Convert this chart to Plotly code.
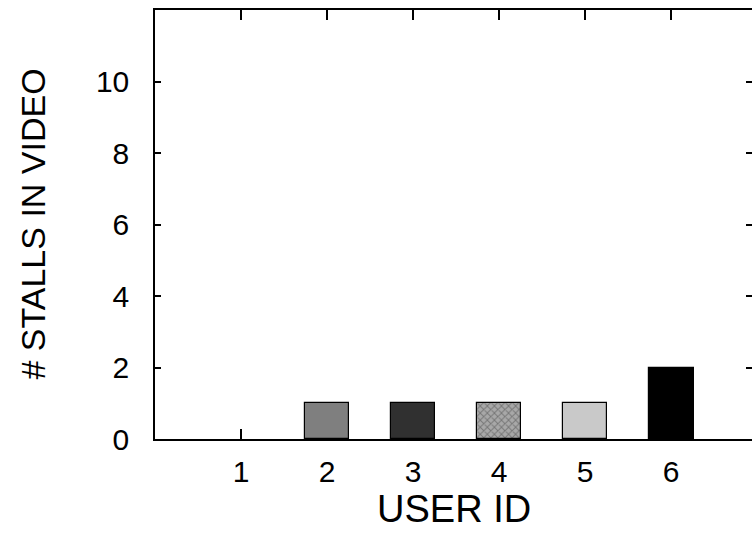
import plotly.graph_objects as go

user_ids = [1, 2, 3, 4, 5, 6]
stalls = [0, 1, 1, 1, 1, 2]
bar_colors = ["#ffffff", "#7f7f7f", "#303030", "#a8a8a8", "#c9c9c9", "#000000"]
y_ticks = [0, 2, 4, 6, 8, 10]

patterns = ["", "", "", "x", "", ""]
outline_widths = [0 if v == 0 else 1.2 for v in stalls]

fig = go.Figure()
fig.add_trace(go.Bar(
    x=user_ids, y=stalls, width=0.52,
    marker=dict(
        color=bar_colors,
        line=dict(color="#000000", width=outline_widths),
        pattern=dict(shape=patterns, fgcolor="#5a5a5a", bgcolor="#c0c0c0", size=5, solidity=0.35),
    ),
    showlegend=False,
))
fig.add_trace(go.Scatter(x=[], y=[], yaxis="y2", showlegend=False))

font_family = "Liberation Sans, Arial, sans-serif"
fig.update_layout(
    width=752, height=538,
    margin=dict(l=155, r=0, t=10, b=99),
    plot_bgcolor="white", paper_bgcolor="white",
    font=dict(family=font_family, color="#000000"),
    bargap=0,
    xaxis=dict(
        range=[0, 6.94], tickvals=user_ids, ticktext=[str(u) for u in user_ids],
        ticks="inside", ticklen=10, tickwidth=1.5, tickcolor="#000",
        showline=True, linecolor="#000", linewidth=1.5, mirror="ticks",
        showgrid=False, zeroline=False, layer="below traces",
        tickfont=dict(size=30), ticklabelstandoff=5,
    ),
    yaxis=dict(
        range=[0, 12], tickvals=y_ticks,
        ticks="inside", ticklen=6, tickwidth=1.5, tickcolor="#000",
        showline=True, linecolor="#000", linewidth=1.5,
        showgrid=False, zeroline=False, layer="below traces",
        tickfont=dict(size=30), ticklabelstandoff=18,
    ),
    yaxis2=dict(
        range=[0, 12], tickvals=y_ticks, overlaying="y", side="right",
        ticks="inside", ticklen=6, tickwidth=1.5, tickcolor="#000",
        showline=False, showgrid=False, zeroline=False, showticklabels=False,
    ),
    annotations=[
        dict(text="USER ID", xref="paper", yref="paper", x=0.5, y=0, yshift=-70,
             xanchor="center", yanchor="middle", showarrow=False, font=dict(size=38)),
        dict(text="# STALLS IN VIDEO", xref="paper", yref="paper", x=0, xshift=-123, y=0.5,
             xanchor="center", yanchor="middle", textangle=-90, showarrow=False, font=dict(size=34)),
    ],
)

fig.write_html("out.html")
